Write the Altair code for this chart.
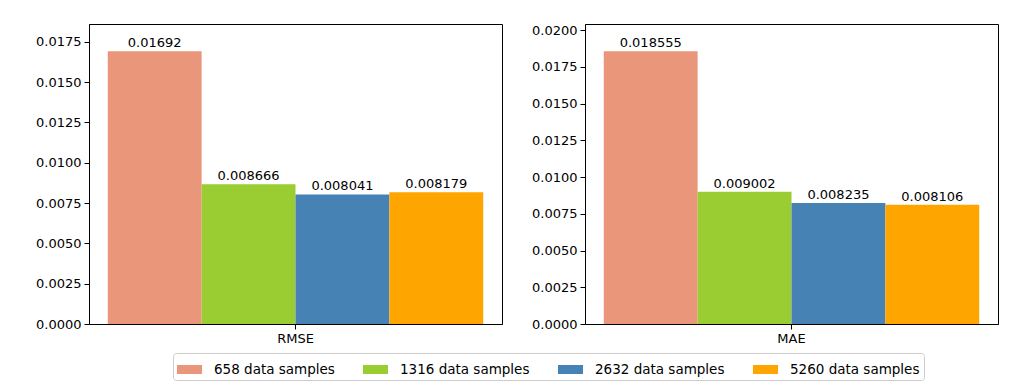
import altair as alt
import pandas as pd

metrics = ["RMSE", "MAE"]
series = ["658 data samples", "1316 data samples", "2632 data samples", "5260 data samples"]
rmse_values = [0.01692, 0.008666, 0.008041, 0.008179]
mae_values = [0.018555, 0.009002, 0.008235, 0.008106]
colors = ["#E9967A", "#9ACD32", "#4682B4", "#FFA500"]
y_max = [0.01861, 0.02041]
rmse_ticks = [0.0, 0.0025, 0.005, 0.0075, 0.01, 0.0125, 0.015, 0.0175]
mae_ticks = [0.0, 0.0025, 0.005, 0.0075, 0.01, 0.0125, 0.015, 0.0175, 0.02]

FONT = "DejaVu Sans"


def panel(metric, vals, ymax, ticks):
    df = pd.DataFrame({
        "metric": [metric] * len(series),
        "series": series,
        "value": vals,
        "label": [str(v) for v in vals],
    })
    base = alt.Chart(df).encode(
        x=alt.X("metric:N", title=None,
                axis=alt.Axis(labelAngle=0),
                scale=alt.Scale(paddingInner=0, paddingOuter=0.05)),
        xOffset=alt.XOffset("series:N", sort=series,
                            scale=alt.Scale(paddingInner=0, paddingOuter=0)),
        y=alt.Y("value:Q", title=None,
                scale=alt.Scale(domain=[0, ymax], nice=False, zero=True),
                axis=alt.Axis(values=ticks, format=".4f")),
    )
    legend = alt.Legend(
        title=None, orient="none", direction="horizontal", columns=4,
        legendX=84, legendY=329,
        symbolType="M-1,-0.36H1V0.36H-1Z", symbolSize=625,
        symbolStrokeWidth=0, labelFontSize=13.5, labelFont=FONT,
        labelColor="black", columnPadding=28, symbolOffset=0,
        strokeColor="#cccccc", padding=4, cornerRadius=3, fillColor="white",
        labelOffset=12,
    )
    bars = base.mark_bar().encode(
        color=alt.Color("series:N", sort=series,
                        scale=alt.Scale(domain=series, range=colors),
                        legend=legend)
    )
    text = base.mark_text(baseline="bottom", dy=-1, fontSize=13, font=FONT,
                          color="black").encode(text="label:N")
    return (bars + text).properties(width=413, height=300)


chart = alt.hconcat(
    panel(metrics[0], rmse_values, y_max[0], rmse_ticks),
    panel(metrics[1], mae_values, y_max[1], mae_ticks),
    spacing=28,
).properties(
    padding={"left": 27, "top": 15, "right": 10, "bottom": 5}
).configure_view(
    stroke="black", strokeWidth=1
).configure_axis(
    domainColor="black", tickColor="black", labelColor="black",
    tickSize=5, labelPadding=3, labelFontSize=13, labelFont=FONT,
    grid=False, domain=True
)

chart.save("out.html", embed_options={"renderer": "svg", "actions": False})
